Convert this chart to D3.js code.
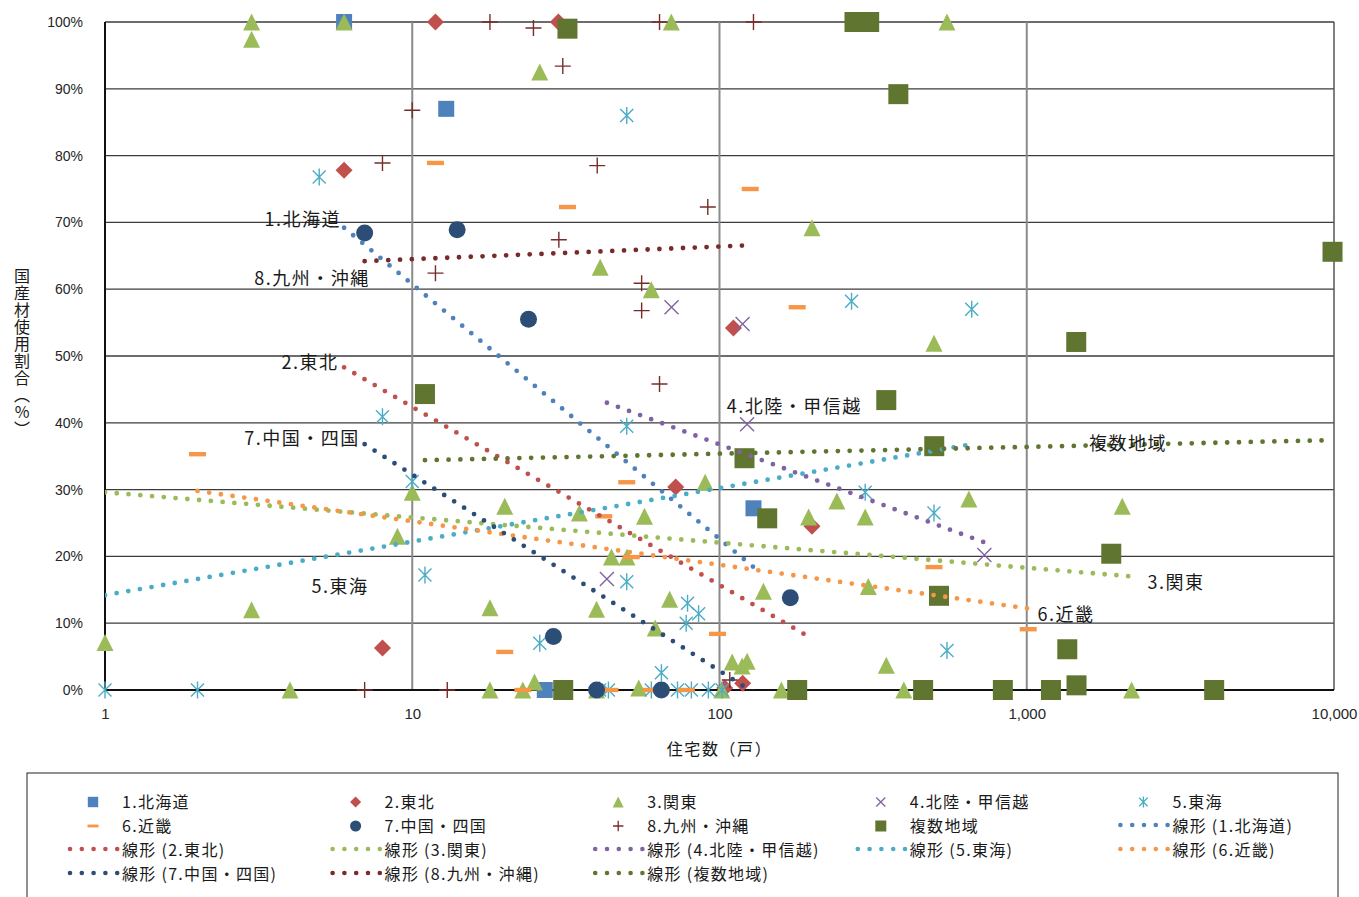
<!DOCTYPE html>
<html>
<head>
<meta charset="utf-8">
<script src="https://cdn.jsdelivr.net/npm/d3@7"></script>
<style>
body{margin:0;background:#fff}
svg text{font-family:"Noto Sans CJK JP","Noto Sans",sans-serif;fill:#1a1a1a}
.num text{font-family:"Liberation Sans",Arial,sans-serif;font-size:14px;fill:#262626}
</style>
</head>
<body>
<script>
// DATA : [住宅数, 国産材使用割合 %]
const hokkaido = [[6,100],[12.9,87],[27,0],[129,27.2]]
const tohoku = [[6,77.8],[8,6.3],[11.9,100],[29.9,100],[31.5,0],[72,30.4],[104,0.3],[111,54.2],[119,1.0],[200,24.5]]
const kanto = [[1,7.1],[3,100],[3,97.4],[3,12.0],[4,0],[6,100],[8.95,23.0],[10,29.6],[17.9,12.3],[17.9,0],[20,27.5],[22.9,0],
  [25,1.2],[26,92.5],[35,26.5],[39.8,12.1],[39.8,0],[40.9,63.3],[44.5,19.9],[50,19.9],[54.6,0.3],[57,26.0],[60,59.9],
  [61.8,9.3],[68.8,13.6],[69.7,100],[89.8,31.1],[101.7,0],[110,4.2],[118.5,3.6],[123,4.3],[139,14.8],[159,0],[195,25.9],
  [200,69.2],[241,28.3],[298,25.9],[305,15.5],[349,3.7],[398,0],[499,51.9],[550,100],[648,28.6],[2046,27.5],[2194,0]]
const hokuriku = [[43,16.6],[69.8,57.3],[118.9,54.8],[123,39.8],[728,20.2]]
const tokai = [[1,0],[2,0],[4.98,76.8],[8,40.9],[10,31.2],[11,17.2],[26,7.0],[40.7,0],[43.5,0],[49.9,86],[49.9,39.5],
  [49.9,16.2],[60,0],[64.7,2.6],[73,0],[77.9,10.0],[78.7,13.0],[81,0],[85.5,11.4],[92,0],[102,0],[269,58.2],[298,29.6],
  [499,26.5],[550,5.9],[662,57.0]]
const kinki = [[2,35.3],[11.9,78.9],[20,5.7],[22.9,0],[32,72.3],[42,26.0],[44,0],[49.9,31.1],[51.6,19.9],[60,0],[78,0],
  [98.5,8.4],[125.9,75],[179,57.3],[499,18.4],[1011,9.1]]
const chugoku = [[7,68.4],[14,68.9],[23.9,55.5],[28.8,8.0],[39.8,0],[64.7,0],[170,13.8]]
const kyushu = [[7,0],[8,78.9],[10,86.8],[11.9,62.4],[13,0],[17.9,100],[24.8,99.1],[30,67.4],[30.9,93.4],[40,78.5],
  [55.8,60.9],[55.8,56.8],[63.8,100],[63.8,45.8],[91.6,72.3],[108,1.5],[129,100]]
const fukusu = [[11,44.3],[31,0],[32,99],[120.6,34.7],[143,25.7],[179,0],[275,100],[307,100],[349,43.4],[382,89.2],
  [460,0],[500,36.5],[518,14.1],[836,0],[1199,0],[1355,6.1],[1449,52.1],[1452,0.7],[1884,20.4],[4074,0],[9890,65.6]]

const seriesNames = ["1.北海道","2.東北","3.関東","4.北陸・甲信越","5.東海","6.近畿","7.中国・四国","8.九州・沖縄","複数地域"]
const seriesData = [hokkaido, tohoku, kanto, hokuriku, tokai, kinki, chugoku, kyushu, fukusu]

// trend lines (線形) : start / end
const trendFrom = [[6,69.2],[6,48.3],[1,29.6],[43,43.0],[1,14.2],[2,29.8],[7,36.8],[7,64.2],[11,34.4]]
const trendTo = [[129,18.4],[200,7.7],[2194,17.0],[728,22.1],[662,36.8],[1011,12.2],[170,-3.9],[129,66.6],[9890,37.4]]

// labels on the plot [text, x, y%]
const trendLabels = [["1.北海道",4.4,70.7],["8.九州・沖縄",4.72,61.8],["2.東北",4.65,49.3],["7.中国・四国",4.38,37.9],
  ["5.東海",5.82,15.7],["4.北陸・甲信越",175,42.7],["複数地域",2136,37.1],["3.関東",3060,16.3],["6.近畿",1342,11.5]]

const xTicks = [1,10,100,1000,10000]
const yTicks = d3.range(0,101,10)

//STYLE
const colors = ["#4F81BD","#C0504D","#9BBB59","#8064A2","#4BACC6","#F79646","#2C4D75","#772C2A","#5F7530"]
const shapes = ["square","diamond","triangle","x","star","dash","circle","plus","bigsquare"]

const svgwidth = 1359, svgheight = 897
const plot = {left:105, right:1334, top:22, bottom:690}

const svg = d3.select("body").append("svg")
  .attr("width", svgwidth).attr("height", svgheight)

const X = d3.scaleLog().domain([1,10000]).range([plot.left, plot.right])
const Y = d3.scaleLinear().domain([0,100]).range([plot.bottom, plot.top])

function markerPath(shape){
  switch(shape){
    case "square": return "M-8,-8H8V8H-8Z"
    case "bigsquare": return "M-10,-10H10V10H-10Z"
    case "diamond": return "M0,-8.5L8.5,0L0,8.5L-8.5,0Z"
    case "triangle": return "M0,-8.5L8.5,8.5L-8.5,8.5Z"
    case "circle": return d3.symbol(d3.symbolCircle, Math.PI*8.5*8.5)()
    case "x": return "M-7,-7L7,7M7,-7L-7,7"
    case "star": return "M-6.5,-6.5L6.5,6.5M6.5,-6.5L-6.5,6.5M0,-8.5V8.5"
    case "plus": return "M-8,0H8M0,-8V8"
    case "dash": return "M-8.5,-2.2H8.5V2.2H-8.5Z"
  }
}
const stroked = s => s == "x" || s == "star" || s == "plus"

//GRID
svg.append("defs").append("clipPath").attr("id","plotclip")
  .append("rect").attr("x",plot.left).attr("y",plot.top)
  .attr("width",plot.right-plot.left).attr("height",plot.bottom-plot.top)

const grid = svg.append("g")
grid.selectAll(".hgrid").data(yTicks).enter().append("line").classed("hgrid",true)
  .attr("x1",plot.left).attr("x2",plot.right)
  .attr("y1",d=>Y(d)).attr("y2",d=>Y(d))
  .attr("stroke","#3c3c3c").attr("stroke-width",1.3)
grid.selectAll(".vgrid").data(xTicks.slice(1,-1)).enter().append("line").classed("vgrid",true)
  .attr("x1",d=>X(d)).attr("x2",d=>X(d))
  .attr("y1",plot.top).attr("y2",plot.bottom)
  .attr("stroke","#8a8a8a").attr("stroke-width",2)
grid.append("line").attr("x1",plot.right).attr("x2",plot.right).attr("y1",plot.top).attr("y2",plot.bottom)
  .attr("stroke","#555").attr("stroke-width",1.5)
grid.append("line").attr("x1",plot.left).attr("x2",plot.left).attr("y1",plot.top).attr("y2",plot.bottom)
  .attr("stroke","#111").attr("stroke-width",2)
grid.append("line").attr("x1",plot.left).attr("x2",plot.right).attr("y1",plot.bottom).attr("y2",plot.bottom)
  .attr("stroke","#111").attr("stroke-width",2)

//AXES (labels only)
const xaxis = svg.append("g").classed("num",true).attr("transform",`translate(0,${plot.bottom})`)
  .call(d3.axisBottom(X).tickValues(xTicks).tickFormat(d3.format(",")).tickSize(0).tickPadding(18))
xaxis.select(".domain").remove()
xaxis.selectAll("text").style("font-size","15px")

const yaxis = svg.append("g").classed("num",true).attr("transform",`translate(${plot.left},0)`)
  .call(d3.axisLeft(Y).tickValues(yTicks).tickFormat(d=>d+"%").tickSize(0).tickPadding(22))
yaxis.select(".domain").remove()
yaxis.selectAll("text").style("font-size","14px")

svg.append("text").attr("x",X(100)).attr("y",748)
  .attr("text-anchor","middle").attr("dominant-baseline","central")
  .style("font-size","16px").style("letter-spacing","1.6px").text("住宅数（戸）")

svg.append("text").attr("transform","translate(22,268)")
  .style("writing-mode","vertical-rl").style("text-orientation","upright")
  .style("font-size","16px").style("letter-spacing","1px")
  .text("国産材使用割合（%）")

//MARKERS
const marks = svg.append("g")
seriesData.forEach((data,k) => {
  const sh = shapes[k]
  marks.append("g").selectAll("path").data(data).enter().append("path")
    .attr("d", markerPath(sh))
    .attr("transform", d => `translate(${X(d[0])},${Y(d[1])})`)
    .attr("fill", stroked(sh) ? "none" : colors[k])
    .attr("stroke", stroked(sh) ? colors[k] : "none")
    .attr("stroke-width", 1.4)
})

//TREND LINES
const trendLine = d3.line().x(d=>X(d[0])).y(d=>Y(d[1]))
const trends = svg.append("g").attr("clip-path","url(#plotclip)")
trendFrom.forEach((p,k) => {
  trends.append("path").attr("d", trendLine([p, trendTo[k]]))
    .attr("fill","none").attr("stroke",colors[k]).attr("stroke-width",4.8)
    .attr("stroke-linecap","round").attr("stroke-dasharray","0 11.8")
})

//LABELS
svg.append("g").selectAll("text").data(trendLabels).enter().append("text")
  .attr("x",d=>X(d[1])).attr("y",d=>Y(d[2]))
  .attr("text-anchor","middle").attr("dominant-baseline","central")
  .style("font-size","18px").style("letter-spacing","1.5px").text(d=>d[0])

//LEGEND
const legend = svg.append("g")
legend.append("rect").attr("x",27).attr("y",773).attr("width",1311).attr("height",140)
  .attr("fill","#fff").attr("stroke","#222").attr("stroke-width",1)

const legendItems = seriesNames.map((n,k)=>({name:n, k:k, trend:false}))
  .concat(seriesNames.map((n,k)=>({name:"線形 (" + n + ")", k:k, trend:true})))

legendItems.forEach((it,i) => {
  const tx = 122 + (i%5)*262.6, ty = 801 + Math.floor(i/5)*24
  const g = legend.append("g")
  if(it.trend){
    g.append("line").attr("x1",tx-52).attr("x2",tx-4).attr("y1",ty).attr("y2",ty)
      .attr("stroke",colors[it.k]).attr("stroke-width",4.6)
      .attr("stroke-linecap","round").attr("stroke-dasharray","0 11.8")
  } else {
    const sh = shapes[it.k]
    g.append("path").attr("d",markerPath(sh))
      .attr("transform",`translate(${tx-29},${ty+1}) scale(${sh=="bigsquare"?0.55:0.65})`)
      .attr("fill", stroked(sh) ? "none" : colors[it.k])
      .attr("stroke", stroked(sh) ? colors[it.k] : "none")
      .attr("stroke-width", 2)
  }
  g.append("text").attr("x",tx).attr("y",ty).attr("dominant-baseline","central")
    .style("font-size","16px").style("letter-spacing","1.3px").text(it.name)
})
</script>
</body>
</html>
